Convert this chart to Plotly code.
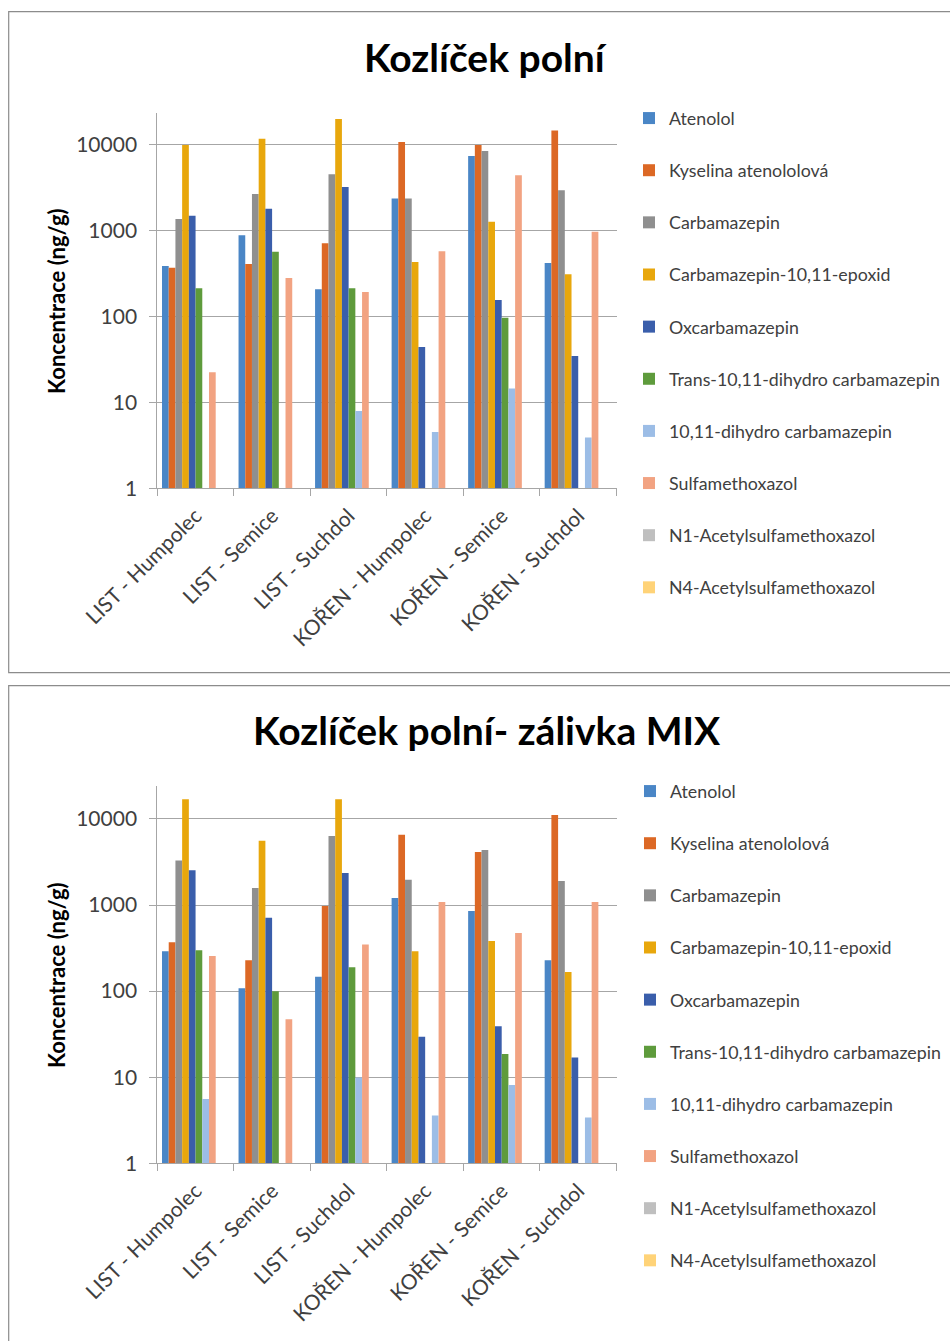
import plotly.graph_objects as go

categories = ["LIST - Humpolec", "LIST - Semice", "LIST - Suchdol",
              "KOŘEN - Humpolec", "KOŘEN - Semice", "KOŘEN - Suchdol"]

series_names = ["Atenolol", "Kyselina atenololová", "Carbamazepin",
                "Carbamazepin-10,11-epoxid", "Oxcarbamazepin",
                "Trans-10,11-dihydro carbamazepin", "10,11-dihydro carbamazepin",
                "Sulfamethoxazol", "N1-Acetylsulfamethoxazol", "N4-Acetylsulfamethoxazol"]

colors = ["#4a86c6", "#dc6825", "#8f8f8f", "#e8a70c", "#3a5eab",
          "#5e9b3c", "#9cbde6", "#f2a382", "#bfbfbf", "#ffd378"]

# Chart 1: Kozlíček polní (ng/g)
top_atenolol = [385, 875, 206, 2350, 7300, 417]
top_kyselina = [367, 405, 706, 10600, 9800, 14500]
top_carbamazepin = [1350, 2640, 4480, 2350, 8350, 2920]
top_epoxid = [9800, 11600, 19700, 428, 1260, 308]
top_oxcarbamazepin = [1480, 1780, 3190, 44, 155, 34.5]
top_trans = [212, 564, 212, None, 96, None]
top_dihydro = [None, None, 7.9, 4.5, 14.5, 3.9]
top_sulfa = [22.3, 279, 192, 570, 4360, 963]
top_n1 = [None, None, None, None, None, None]
top_n4 = [None, None, None, None, None, None]

# Chart 2: Kozlíček polní- zálivka MIX (ng/g)
bot_atenolol = [290, 108, 147, 1206, 851, 228]
bot_kyselina = [369, 228, 973, 6560, 4130, 11100]
bot_carbamazepin = [3300, 1575, 6330, 1968, 4350, 1900]
bot_epoxid = [17000, 5590, 17000, 290, 382, 167]
bot_oxcarbamazepin = [2530, 712, 2350, 29.6, 39, 17]
bot_trans = [298, 100, 189, None, 18.6, None]
bot_dihydro = [5.6, None, 9.9, 3.6, 8.1, 3.4]
bot_sulfa = [256, 47, 349, 1083, 473, 1083]
bot_n1 = [None, None, None, None, None, None]
bot_n4 = [None, None, None, None, None, None]

top_series = [top_atenolol, top_kyselina, top_carbamazepin, top_epoxid, top_oxcarbamazepin,
              top_trans, top_dihydro, top_sulfa, top_n1, top_n4]
bot_series = [bot_atenolol, bot_kyselina, bot_carbamazepin, bot_epoxid, bot_oxcarbamazepin,
              bot_trans, bot_dihydro, bot_sulfa, bot_n1, bot_n4]

y_tickvals = [1, 10, 100, 1000, 10000]
y_ticktext = ["1", "10", "100", "1000", "10000"]

title_top = "Kozlíček polní"
title_bot = "Kozlíček polní- zálivka MIX"
y_title = "Koncentrace (ng/g)"

W, H = 950, 1341
FONT = "Lato"
TXT = "#404040"


def px(x):
    return x / W


def py(y):
    return 1 - y / H


fig = go.Figure()
for i, (name, col) in enumerate(zip(series_names, colors)):
    fig.add_trace(go.Bar(x=categories, y=top_series[i], name=name,
                         marker=dict(color=col, line=dict(width=0)),
                         xaxis="x", yaxis="y", legend="legend",
                         legendgroup="a%d" % i))
for i, (name, col) in enumerate(zip(series_names, colors)):
    fig.add_trace(go.Bar(x=categories, y=bot_series[i], name=name,
                         marker=dict(color=col, line=dict(width=0)),
                         xaxis="x2", yaxis="y2", legend="legend2",
                         legendgroup="b%d" % i))

xdom = [px(157.3), px(616.5)]
grid = "#a6a6a6"
xaxis_common = dict(type="category", tickson="boundaries", ticks="outside", ticklen=7,
                    tickcolor=grid, showline=True, linecolor=grid, linewidth=1,
                    tickangle=-45, tickfont=dict(family=FONT, size=21, color=TXT),
                    ticklabelstandoff=6,
                    showgrid=False, fixedrange=True, automargin=False)
yaxis_common = dict(type="log", tickvals=y_tickvals, ticktext=y_ticktext,
                    ticks="outside", ticklen=7, tickcolor=grid,
                    showline=True, linecolor=grid, linewidth=1,
                    showgrid=True, gridcolor=grid, gridwidth=1,
                    tickfont=dict(family=FONT, size=21, color=TXT),
                    ticklabelstandoff=8, zeroline=False, automargin=False)

leg_font = dict(family=FONT, size=17.8, color=TXT)

fig.update_layout(
    width=W, height=H,
    margin=dict(l=0, r=0, t=0, b=0, autoexpand=False),
    paper_bgcolor="white", plot_bgcolor="white",
    barmode="group", bargap=0.123, bargroupgap=0,
    font=dict(family=FONT, color=TXT),
    xaxis=dict(domain=xdom, anchor="y", **xaxis_common),
    yaxis=dict(domain=[py(488.3), py(112.7)], anchor="x",
               range=[0, (488.3 - 112.7) / 86.0], **yaxis_common),
    xaxis2=dict(domain=xdom, anchor="y2", **xaxis_common),
    yaxis2=dict(domain=[py(1163.3), py(786.0)], anchor="x2",
                range=[0, (1163.3 - 786.0) / 86.08], **yaxis_common),
    legend=dict(x=px(629), y=py(100), xanchor="left", yanchor="top",
                font=leg_font, tracegroupgap=26, bgcolor="rgba(0,0,0,0)"),
    legend2=dict(x=px(630), y=py(773), xanchor="left", yanchor="top",
                 font=leg_font, tracegroupgap=26, bgcolor="rgba(0,0,0,0)"),
    showlegend=True,
)

fig.add_annotation(text="<b>%s</b>" % title_top, x=px(486), y=py(57), xref="paper", yref="paper",
                   showarrow=False, font=dict(family=FONT, size=39, color="black"),
                   xanchor="center", yanchor="middle")
fig.add_annotation(text="<b>%s</b>" % title_bot, x=px(487), y=py(730), xref="paper", yref="paper",
                   showarrow=False, font=dict(family=FONT, size=39, color="black"),
                   xanchor="center", yanchor="middle")
fig.add_annotation(text="<b>%s</b>" % y_title, x=px(56), y=py(301), xref="paper", yref="paper",
                   showarrow=False, textangle=-90, font=dict(family=FONT, size=22, color="black"),
                   xanchor="center", yanchor="middle")
fig.add_annotation(text="<b>%s</b>" % y_title, x=px(56), y=py(975), xref="paper", yref="paper",
                   showarrow=False, textangle=-90, font=dict(family=FONT, size=22, color="black"),
                   xanchor="center", yanchor="middle")

frame = "#8c8c8c"
fig.add_shape(type="rect", xref="paper", yref="paper",
              x0=px(8.7), x1=px(965), y0=py(672.7), y1=py(11.7),
              line=dict(color=frame, width=1.2), fillcolor="rgba(0,0,0,0)", layer="below")
fig.add_shape(type="rect", xref="paper", yref="paper",
              x0=px(8.7), x1=px(965), y0=py(1360), y1=py(685.7),
              line=dict(color=frame, width=1.2), fillcolor="rgba(0,0,0,0)", layer="below")

fig.write_html("out.html")
